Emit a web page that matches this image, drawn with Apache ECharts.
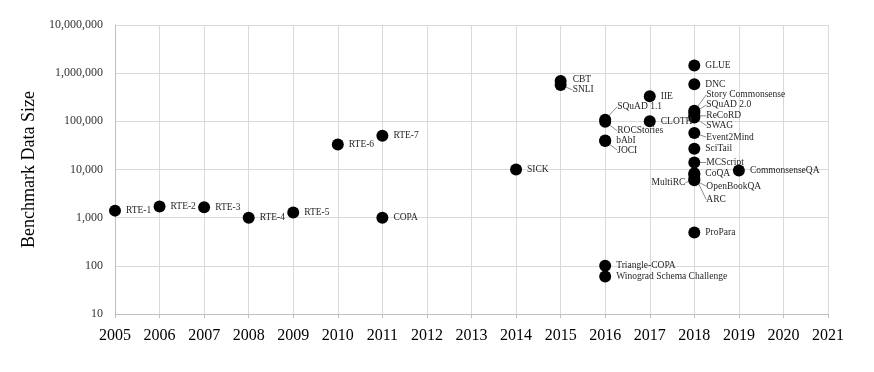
<!DOCTYPE html>
<html>
<head>
<meta charset="utf-8">
<script src="https://cdn.jsdelivr.net/npm/echarts@6/dist/echarts.min.js"></script>
<style>html,body{margin:0;padding:0;background:#fff}#c{width:874px;height:372px}</style>
</head>
<body>
<div id="c"></div>
<script>
const names = ['RTE-1','RTE-2','RTE-3','RTE-4','RTE-5','RTE-6','RTE-7','COPA','SICK','CBT','SNLI',
  'SQuAD 1.1','ROCStories','bAbI','JOCI','Triangle-COPA','Winograd Schema Challenge','IIE','CLOTH',
  'GLUE','DNC','Story Commonsense','SQuAD 2.0','ReCoRD','SWAG','Event2Mind','SciTail','MCScript',
  'CoQA','MultiRC','OpenBookQA','ARC','ProPara','CommonsenseQA'];
const years = [2005,2006,2007,2008,2009,2010,2011,2011,2014,2015,2015,
  2016,2016,2016,2016,2016,2016,2017,2017,
  2018,2018,2018,2018,2018,2018,2018,2018,2018,
  2018,2018,2018,2018,2018,2019];
const sizes = [1400,1700,1650,1000,1280,33000,50000,1000,10000,690000,570000,
  108000,98000,40000,39000,100,60,330000,100000,
  1450000,590000,165000,150000,130000,120000,57000,27000,14000,
  8400,6400,6000,7800,490,9500];
const yTicks = [10,100,1000,10000,100000,1000000,10000000];

// label placement: [dx from point centre, dy from point centre, side]
const labelPlace = {
  'CBT':[12,-1], 'SNLI':[12,5],
  'SQuAD 1.1':[12,-13], 'ROCStories':[12,9], 'JOCI':[12,9],
  'Story Commonsense':[12,-16], 'SQuAD 2.0':[12,-8], 'ReCoRD':[12,0], 'SWAG':[12,8],
  'Event2Mind':[12,4], 'MCScript':[12,0], 'MultiRC':[-9,4,'right'],
  'OpenBookQA':[12,6], 'ARC':[12,25]
};
const withLine = ['SNLI','SQuAD 1.1','ROCStories','JOCI','Story Commonsense','SQuAD 2.0',
  'ReCoRD','SWAG','Event2Mind','MCScript','MultiRC','OpenBookQA','ARC'];

const data = names.map((n,i)=>({
  name:n, value:[years[i], sizes[i]],
  labelLine:{show: withLine.indexOf(n) >= 0}
}));

const SERIF = '"Liberation Serif","Times New Roman",serif';
const chart = echarts.init(document.getElementById('c'));
chart.setOption({
  animation:false,
  grid:{left:115, right:46, top:25, bottom:58},
  xAxis:{
    type:'value', min:2005, max:2021, interval:1,
    axisLine:{show:true, lineStyle:{color:'#bfbfbf'}},
    axisTick:{show:true, length:4, lineStyle:{color:'#bfbfbf'}},
    splitLine:{show:true, lineStyle:{color:'#d9d9d9', width:1}},
    axisLabel:{fontFamily:SERIF, fontSize:16, color:'#000', margin:14,
      formatter:v=>String(v)}
  },
  yAxis:{
    type:'log', logBase:10, min:10, max:10000000,
    name:'Benchmark Data Size', nameLocation:'middle', nameGap:72,
    nameTextStyle:{fontFamily:SERIF, fontSize:18, color:'#000'},
    axisLine:{show:true, lineStyle:{color:'#bfbfbf'}},
    axisTick:{show:false},
    splitLine:{show:true, lineStyle:{color:'#d9d9d9', width:1}},
    axisLabel:{fontFamily:SERIF, fontSize:12, color:'#333', margin:12,
      formatter:v=>Number(v).toLocaleString('en-US')}
  },
  series:[{
    type:'scatter',
    symbol:'circle', symbolSize:12,
    itemStyle:{color:'#000', opacity:1},
    data:data,
    label:{show:true, position:'right', distance:5, formatter:'{b}',
      fontFamily:SERIF, fontSize:9.5, color:'#262626'},
    labelLine:{show:false, lineStyle:{color:'#8c8c8c', width:1}},
    labelLayout:function(p){
      const n = names[p.dataIndex];
      const pl = labelPlace[n];
      if(!pl) return {};
      const cx = p.rect.x + p.rect.width/2, cy = p.rect.y + p.rect.height/2;
      return {x: cx + pl[0], y: cy + pl[1], align: pl[2] || 'left', verticalAlign:'middle'};
    }
  }]
});
</script>
</body>
</html>
